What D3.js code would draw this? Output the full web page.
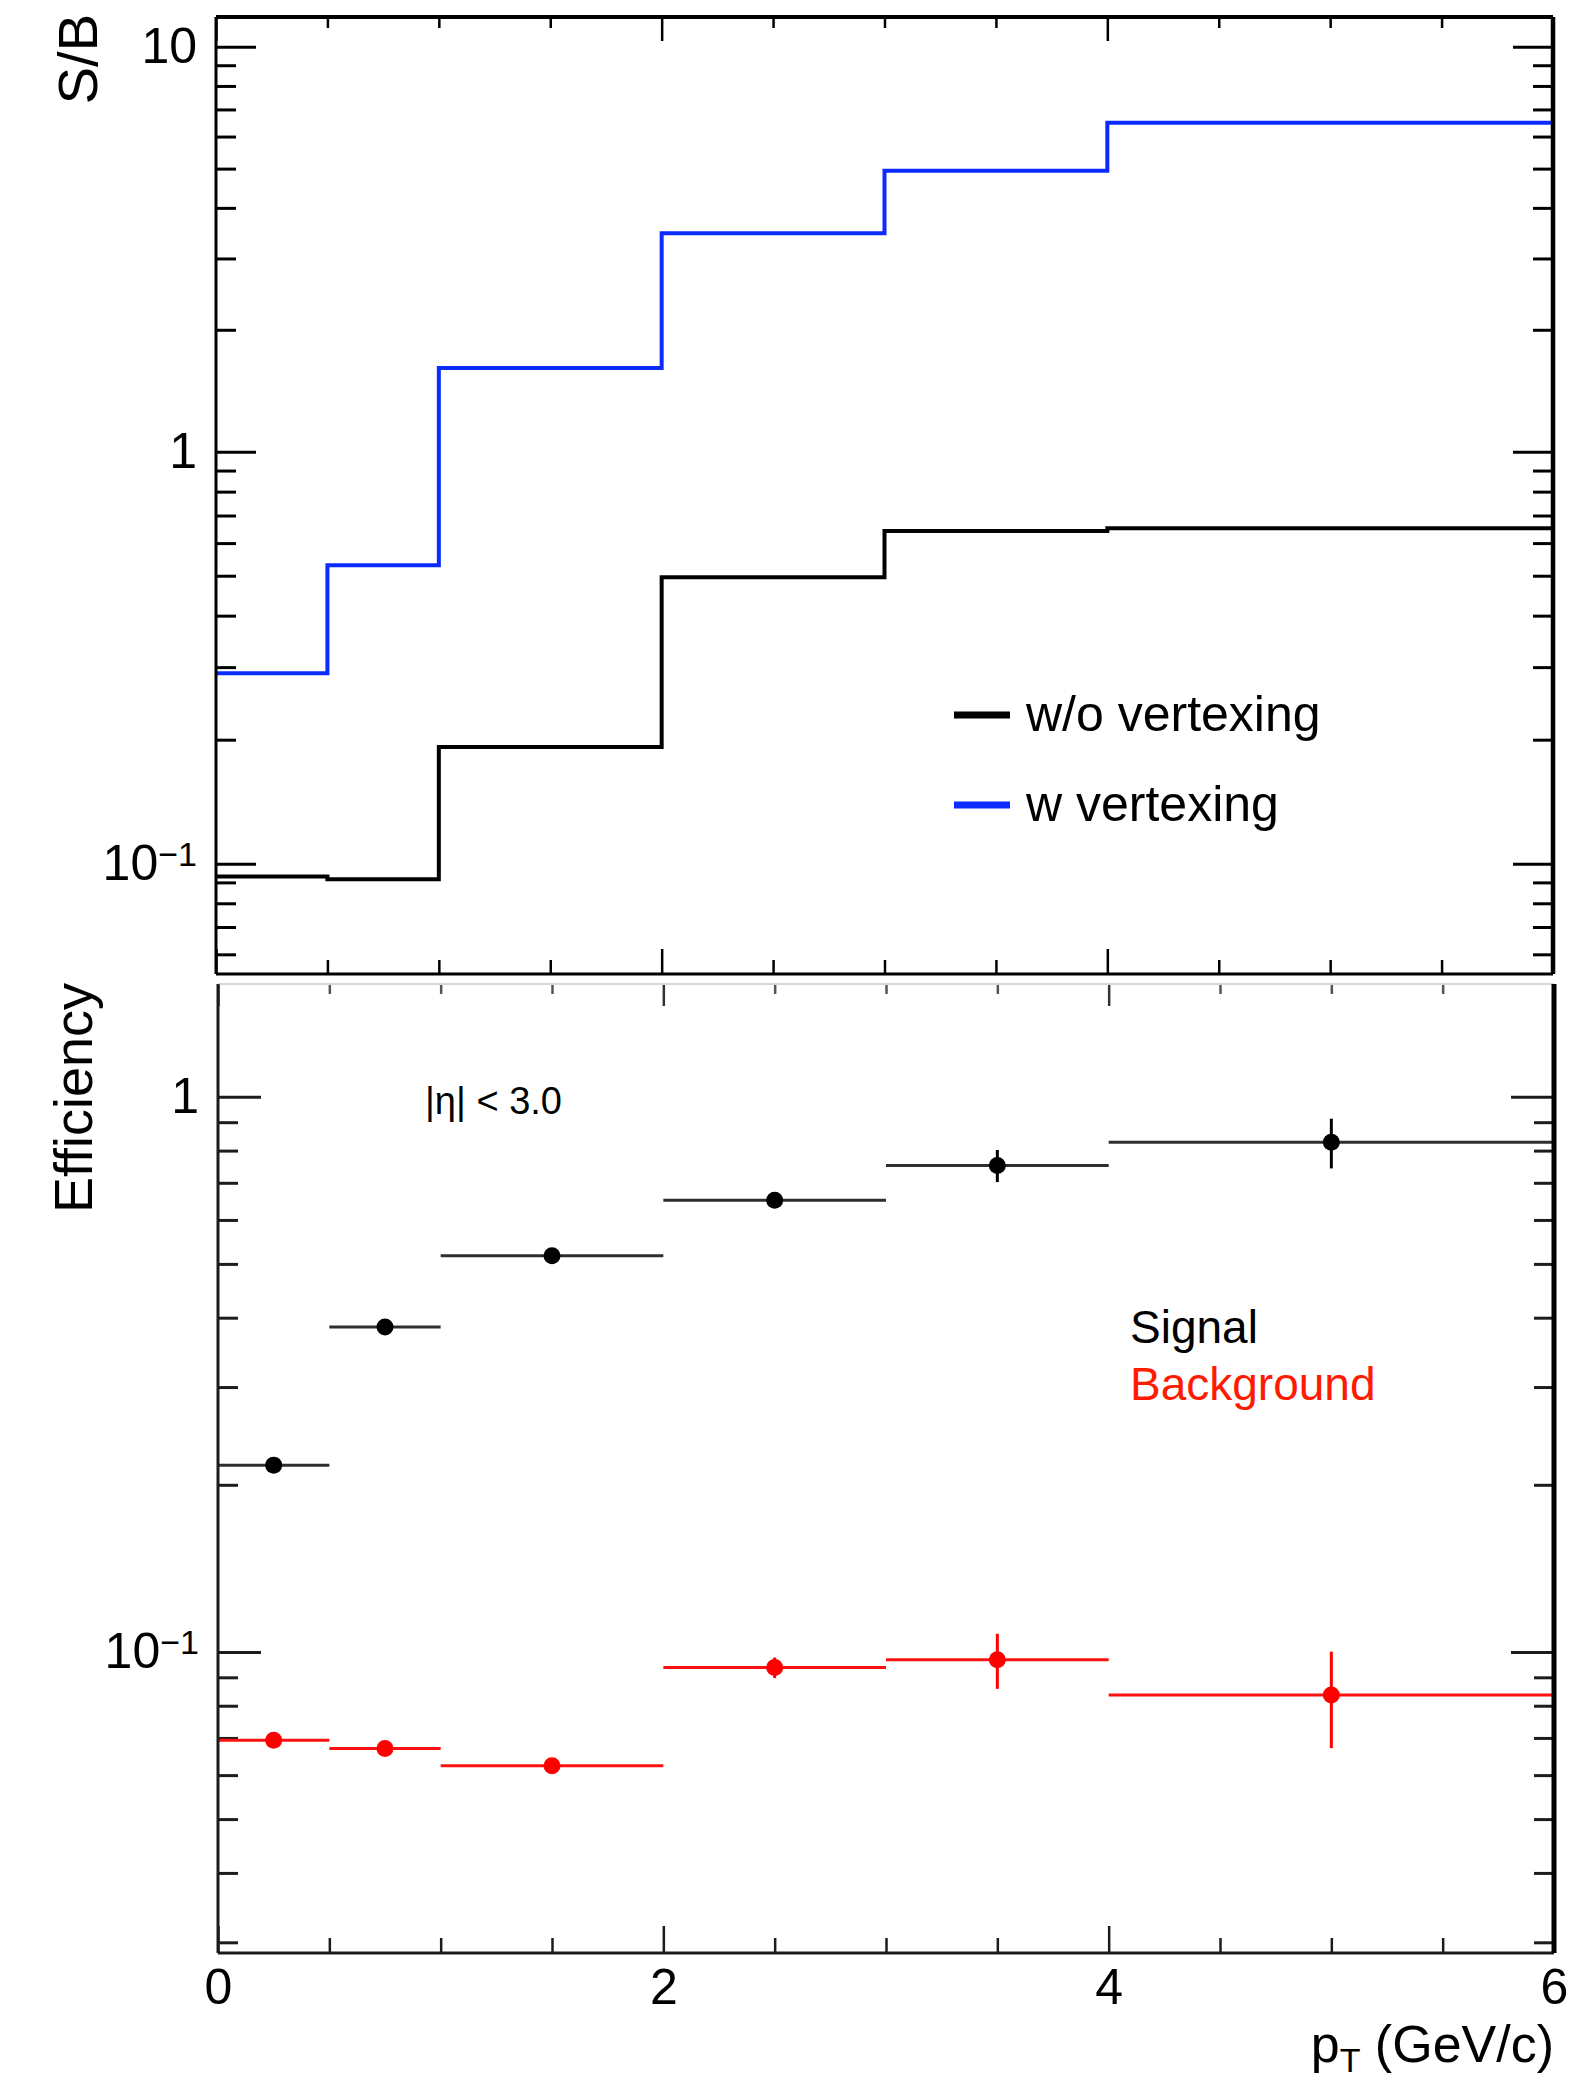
<!DOCTYPE html>
<html>
<head>
<meta charset="utf-8">
<title>S/B and efficiency vs pT</title>
<script src="https://cdnjs.cloudflare.com/ajax/libs/d3/7.8.5/d3.min.js"></script>
<style>
	body { margin: 0; background: #fff; }
	svg { display: block; font-family: "Liberation Sans", Arial, Helvetica, sans-serif; }
</style>
</head>
<body>
<div id="chart"></div>
<script>
"use strict";

//********************************* DATA *********************************
var binEdges = [0, 0.5, 1, 2, 3, 4, 6];                        //pT bin edges (GeV/c)
var binCenters = [0.25, 0.75, 1.5, 2.5, 3.5, 5];

var sbWithoutVtx = [0.093, 0.0916, 0.192, 0.496, 0.642, 0.652];   //black histogram
var sbWithVtx = [0.29, 0.53, 1.61, 3.46, 4.94, 6.49];            //blue histogram

var effSignal = [0.217, 0.385, 0.517, 0.651, 0.752, 0.828];
var effSignalErr = [0.004, 0.005, 0.006, 0.012, 0.05, 0.085];
var effBackground = [0.0693, 0.0670, 0.0624, 0.0937, 0.0968, 0.0836];
var effBackgroundErr = [0.0012, 0.0012, 0.0012, 0.004, 0.011, 0.0165];

var xMajorTicks = [0, 2, 4, 6];
var xMinorTicks = [0.5, 1, 1.5, 2.5, 3, 3.5, 4.5, 5, 5.5];
var sbMajorTicks = [0.1, 1, 10];
var sbMinorTicks = [0.06, 0.07, 0.08, 0.09, 0.2, 0.3, 0.4, 0.5, 0.6, 0.7, 0.8, 0.9, 2, 3, 4, 5, 6, 7, 8, 9];
var effMajorTicks = [0.1, 1];
var effMinorTicks = [0.03, 0.04, 0.05, 0.06, 0.07, 0.08, 0.09, 0.2, 0.3, 0.4, 0.5, 0.6, 0.7, 0.8, 0.9];

var legendLabels = ["w/o vertexing", "w vertexing"];
var legendColors = ["#000000", "#0b2bff"];

//********************************* CANVAS *********************************
var W = 1595, H = 2078;
var svg = d3.select("#chart").append("svg").attr("width", W).attr("height", H);
svg.append("rect").attr("width", W).attr("height", H).attr("fill", "#ffffff");

//Top panel (S/B) and bottom panel (efficiency)
//NOTE: the log axes are piecewise per decade, the decades in the picture are not all the same height
var xTop = d3.scaleLinear().domain([0, 6]).range([216, 1553]);
var yTop = d3.scaleLog().domain([0.0537, 0.1, 1, 10, 11.82]).range([974, 863.7, 451.7, 46.7, 17]);
var xBot = d3.scaleLinear().domain([0, 6]).range([218, 1554]);
var yBot = d3.scaleLog().domain([0.0287, 0.1, 1, 1.597]).range([1953, 1651.9, 1096.8, 984]);

//Draws one set of unlabeled ticks with a d3 axis, no domain line
function tickSet(axisFn, scale, values, size, tx, ty, color, width){
	var a = axisFn(scale).tickValues(values).tickSize(size).tickSizeOuter(0).tickFormat("");
	var g = svg.append("g").attr("transform", "translate(" + tx + "," + ty + ")").call(a);
	g.select(".domain").remove();
	g.selectAll("text").remove();
	g.selectAll("line").attr("stroke", color).attr("stroke-width", width);
	return g;
}

//Writes 10^n style log labels (10, 1, 10^-1)
function logLabel(sel){
	sel.each(function(d){
		var t = d3.select(this);
		t.text(null);
		if(d >= 1){
			t.text(d3.format("d")(d));
		}
		else{
			t.append("tspan").text("10");
			t.append("tspan").attr("dy", "-0.42em").attr("font-size", "0.68em").text("\u22121");
		}
	});
}

function line(x1, y1, x2, y2, color, width){
	svg.append("line").attr("x1", x1).attr("y1", y1).attr("x2", x2).attr("y2", y2)
		.attr("stroke", color).attr("stroke-width", width);
}

//********************************* TOP PANEL *********************************
tickSet(d3.axisRight, yTop, sbMajorTicks, 40, 216, 0, "#000", 3);
tickSet(d3.axisRight, yTop, sbMinorTicks, 20, 216, 0, "#000", 3);
tickSet(d3.axisLeft, yTop, sbMajorTicks, 40, 1553, 0, "#000", 3);
tickSet(d3.axisLeft, yTop, sbMinorTicks, 20, 1553, 0, "#000", 3);
tickSet(d3.axisTop, xTop, xMajorTicks, 25, 0, 974, "#000", 2.5);
tickSet(d3.axisTop, xTop, xMinorTicks, 14, 0, 974, "#000", 2.5);
tickSet(d3.axisBottom, xTop, xMajorTicks, 24, 0, 17, "#000", 2.5);
tickSet(d3.axisBottom, xTop, xMinorTicks, 11, 0, 17, "#000", 2.5);

var sbLabels = svg.append("g").attr("transform", "translate(216,0)")
	.call(d3.axisLeft(yTop).tickValues(sbMajorTicks).tickSize(0).tickPadding(19));
sbLabels.select(".domain").remove();
sbLabels.selectAll("text").attr("font-size", 50).attr("fill", "#000").attr("font-family", null).call(logLabel);

//histograms
var stepLine = d3.line()
	.x(function(d){ return xTop(d[0]); })
	.y(function(d){ return yTop(d[1]); })
	.curve(d3.curveStepAfter);

function histPoints(vals){
	return binEdges.map(function(e, i){ return [e, vals[Math.min(i, vals.length - 1)]]; });
}

svg.append("path").datum(histPoints(sbWithoutVtx)).attr("d", stepLine)
	.attr("fill", "none").attr("stroke", legendColors[0]).attr("stroke-width", 4);
svg.append("path").datum(histPoints(sbWithVtx)).attr("d", stepLine)
	.attr("fill", "none").attr("stroke", legendColors[1]).attr("stroke-width", 4);

//frame
line(216, 17, 1553, 17, "#000", 4);
line(216, 17, 216, 974, "#000", 3);
line(1553, 17, 1553, 974, "#000", 4.5);
line(216, 974, 1553, 974, "#000", 3);

//legend
legendLabels.forEach(function(lab, i){
	var ly = 715 + i * 90;
	line(954, ly, 1010, ly, legendColors[i], 7);
	svg.append("text").attr("x", 1026).attr("y", ly + 16).attr("font-size", 50).attr("fill", "#000").text(lab);
});

//y title
svg.append("text").attr("transform", "translate(97,14) rotate(-90)")
	.attr("text-anchor", "end").attr("font-size", 56).attr("fill", "#000").text("S/B");

//********************************* BOTTOM PANEL *********************************
var axisCol = "#1c1c1c";
tickSet(d3.axisRight, yBot, effMajorTicks, 43, 218, 0, axisCol, 3);
tickSet(d3.axisRight, yBot, effMinorTicks, 20, 218, 0, axisCol, 3);
tickSet(d3.axisLeft, yBot, effMajorTicks, 43, 1554, 0, axisCol, 3);
tickSet(d3.axisLeft, yBot, effMinorTicks, 20, 1554, 0, axisCol, 3);
tickSet(d3.axisTop, xBot, xMajorTicks, 27, 0, 1953, axisCol, 2.5);
tickSet(d3.axisTop, xBot, xMinorTicks, 15, 0, 1953, axisCol, 2.5);
tickSet(d3.axisBottom, xBot, xMajorTicks, 22, 0, 984, "#333", 2.5);
tickSet(d3.axisBottom, xBot, xMinorTicks, 10, 0, 984, "#555", 2.5);

var effLabels = svg.append("g").attr("transform", "translate(218,0)")
	.call(d3.axisLeft(yBot).tickValues(effMajorTicks).tickSize(0).tickPadding(19));
effLabels.select(".domain").remove();
effLabels.selectAll("text").attr("font-size", 50).attr("fill", "#000").attr("font-family", null).call(logLabel);

var xLabels = svg.append("g").attr("transform", "translate(0,1953)")
	.call(d3.axisBottom(xBot).tickValues(xMajorTicks).tickSize(0).tickPadding(15).tickFormat(d3.format("d")));
xLabels.select(".domain").remove();
xLabels.selectAll("text").attr("font-size", 50).attr("fill", "#000").attr("font-family", null);

//efficiency points with error bars
function drawPoints(vals, errs, color, barColor, r){
	var g = svg.append("g");
	vals.forEach(function(v, i){
		var cx = xBot(binCenters[i]), cy = yBot(v);
		g.append("line").attr("x1", xBot(binEdges[i])).attr("x2", xBot(binEdges[i + 1]))
			.attr("y1", cy).attr("y2", cy).attr("stroke", barColor).attr("stroke-width", 3);
		g.append("line").attr("x1", cx).attr("x2", cx)
			.attr("y1", yBot(v - errs[i])).attr("y2", yBot(v + errs[i]))
			.attr("stroke", color).attr("stroke-width", 3);
		g.append("circle").attr("cx", cx).attr("cy", cy).attr("r", r).attr("fill", color);
	});
}
drawPoints(effSignal, effSignalErr, "#000", "#2e2e2e", 8.5);
drawPoints(effBackground, effBackgroundErr, "#ff0000", "#ff1010", 8.5);

//frame
line(218, 984, 1554, 984, "#d6d6d6", 2);
line(218, 984, 218, 1953, axisCol, 3);
line(218, 1953, 1554, 1953, axisCol, 3);
line(1554, 984, 1554, 1953, "#000", 5);

//texts
svg.append("text").attr("x", 425).attr("y", 1114).attr("font-size", 38).attr("fill", "#000")
	.text("|\u03b7| < 3.0");
svg.append("text").attr("x", 1130).attr("y", 1343).attr("font-size", 46).attr("fill", "#000").text("Signal");
svg.append("text").attr("x", 1130).attr("y", 1400).attr("font-size", 46).attr("fill", "#ff1a00").text("Background");

svg.append("text").attr("transform", "translate(92,983) rotate(-90)")
	.attr("text-anchor", "end").attr("font-size", 54).attr("fill", "#000").text("Efficiency");

var xTitle = svg.append("text").attr("x", 1554).attr("y", 2062).attr("text-anchor", "end")
	.attr("font-size", 52).attr("fill", "#000");
xTitle.append("tspan").text("p");
xTitle.append("tspan").attr("dy", 10).attr("font-size", 34).text("T");
xTitle.append("tspan").attr("dy", -10).text(" (GeV/c)");
</script>
</body>
</html>
